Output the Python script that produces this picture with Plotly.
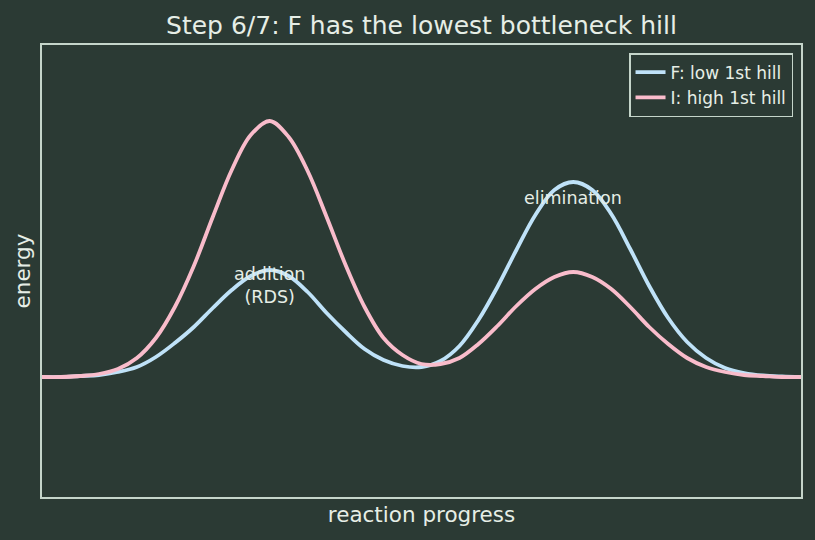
import plotly.graph_objects as go

# reaction coordinate (0..10)
progress = [0.0, 0.25, 0.5, 0.75, 1.0, 1.25, 1.5, 1.75, 2.0, 2.25, 2.5, 2.75, 3.0,
            3.25, 3.5, 3.75, 4.0, 4.25, 4.5, 4.75, 5.0, 5.25, 5.5, 5.75, 6.0, 6.25,
            6.5, 6.75, 7.0, 7.25, 7.5, 7.75, 8.0, 8.25, 8.5, 8.75, 9.0, 9.25, 9.5,
            9.75, 10.0]

# F: low 1st hill (energy, baseline = 0)
energy_F = [0.00, 0.00, 0.01, 0.02, 0.05, 0.10, 0.20, 0.34, 0.50, 0.69, 0.87, 1.01, 1.07,
            1.01, 0.85, 0.64, 0.45, 0.28, 0.17, 0.11, 0.10, 0.16, 0.31, 0.57, 0.90, 1.27,
            1.62, 1.87, 1.95, 1.87, 1.63, 1.28, 0.91, 0.59, 0.35, 0.19, 0.09, 0.04, 0.015,
            0.005, 0.00]

# I: high 1st hill
energy_I = [0.00, 0.00, 0.01, 0.03, 0.08, 0.19, 0.39, 0.70, 1.11, 1.60, 2.07, 2.42, 2.56,
            2.40, 2.06, 1.60, 1.12, 0.70, 0.39, 0.22, 0.13, 0.13, 0.19, 0.33, 0.51, 0.71,
            0.88, 1.00, 1.05, 1.00, 0.88, 0.70, 0.50, 0.33, 0.19, 0.10, 0.05, 0.02, 0.01,
            0.00, 0.00]

series_names = ["F: low 1st hill", "I: high 1st hill"]
labels = [("addition<br>(RDS)", 3.0, 0.92), ("elimination", 7.0, 1.79)]

BG = "#2b3a34"
FG = "#e6eee6"
EDGE = "#c5d5ca"
BLUE = "#bfe2f8"
PINK = "#f9bccb"

fig = go.Figure()
fig.add_trace(go.Scatter(x=progress, y=energy_F, mode="lines", name=series_names[0],
                         line=dict(color=BLUE, width=3.8, shape="spline", smoothing=1.0)))
fig.add_trace(go.Scatter(x=progress, y=energy_I, mode="lines", name=series_names[1],
                         line=dict(color=PINK, width=3.8, shape="spline", smoothing=1.0)))

for text, x, y in labels:
    fig.add_annotation(x=x, y=y, text=text, showarrow=False,
                       font=dict(size=17.5, color=FG, family="DejaVu Sans"),
                       xanchor="center", yanchor="middle")

fig.update_layout(
    width=815, height=540,
    paper_bgcolor=BG, plot_bgcolor=BG,
    margin=dict(l=42, r=14, t=45, b=43),
    font=dict(family="DejaVu Sans", color=FG, size=17.5),
    title=dict(text="Step 6/7: F has the lowest bottleneck hill", xref="paper", x=0.5,
               xanchor="center", y=0.953, yanchor="middle", font=dict(size=25, color=FG)),
    showlegend=True,
    legend=dict(x=0.9895, y=0.982, xanchor="right", yanchor="top",
                bgcolor=BG, bordercolor=EDGE, borderwidth=1.5,
                font=dict(size=17, color=FG)),
)
fig.update_xaxes(range=[0, 10], showgrid=False, zeroline=False, showticklabels=False,
                 ticks="", showline=True, mirror=True, linecolor=EDGE, linewidth=1.5,
                 title=dict(text="reaction progress", font=dict(size=21.5, color=FG), standoff=9))
fig.update_yaxes(range=[-1.2, 3.32], showgrid=False, zeroline=False, showticklabels=False,
                 ticks="", showline=True, mirror=True, linecolor=EDGE, linewidth=1.5,
                 title=dict(text="energy", font=dict(size=21.5, color=FG), standoff=4))

fig.write_html("out.html")
